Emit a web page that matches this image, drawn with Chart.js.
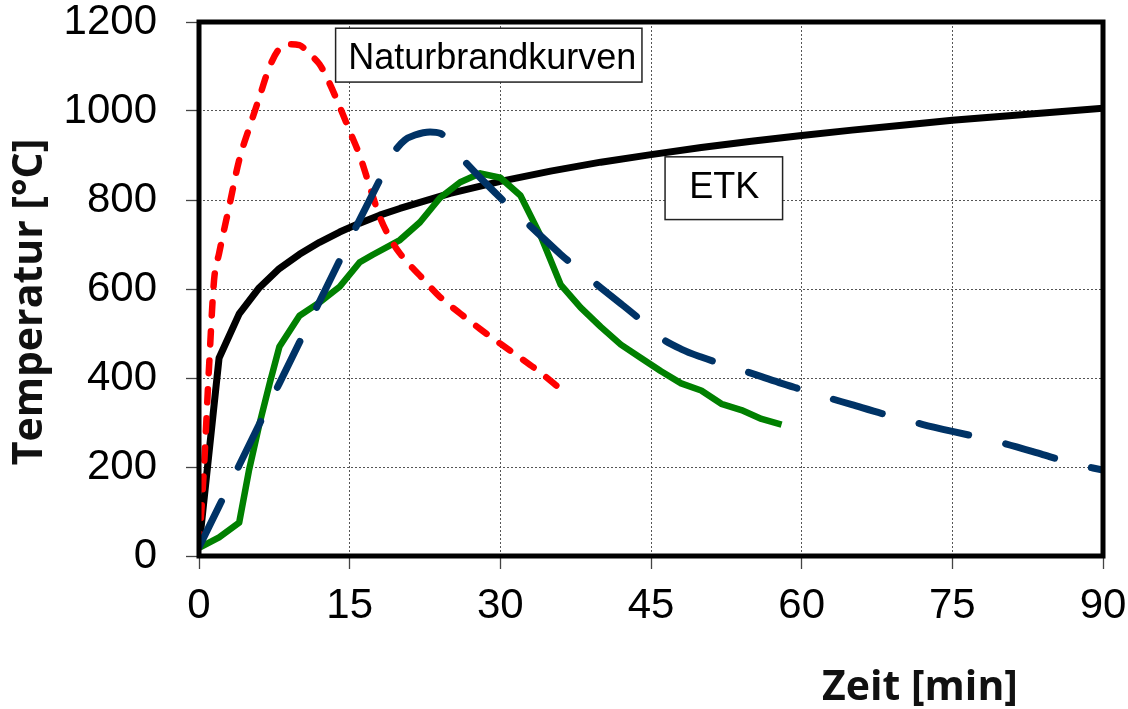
<!DOCTYPE html>
<html>
<head>
<meta charset="utf-8">
<title>ETK und Naturbrandkurven</title>
<script src="https://cdn.jsdelivr.net/npm/chart.js@4.4.1/dist/chart.umd.min.js"></script>
<style>
    html, body { margin: 0; padding: 0; background: #fff; }
    #wrap { width: 1128px; height: 709px; }
</style>
</head>
<body>
<div id="wrap"><canvas id="brandChart" width="1128" height="709"></canvas></div>
<script>
// Achsen
const xTicks = [0, 15, 30, 45, 60, 75, 90];
const yTicks = [0, 200, 400, 600, 800, 1000, 1200];

// Einheits-Temperaturzeitkurve (ETK)
const etkTime = [0, 2, 4, 6, 8, 10, 12, 14, 16, 18, 20, 25, 30, 35, 40, 45, 50, 55, 60, 65, 70, 75, 80, 85, 90];
const etkTemp = [20, 445, 544, 603, 646, 678, 705, 728, 748, 766, 781, 815, 842, 865, 885, 902, 918, 932, 945, 957, 968, 979, 988, 997, 1006];

// Naturbrandkurve 1 (rot, gestrichelt)
const redTime = [0, 0.5, 1, 1.5, 2, 3, 4, 5, 6, 7, 8, 9, 10, 11, 12, 13, 14, 15, 16, 17, 18, 19, 20, 22, 24, 26, 28, 30, 32, 34, 36];
const redTemp = [20, 200, 425, 620, 680, 785, 890, 962, 1030, 1098, 1140, 1150, 1148, 1128, 1105, 1062, 1010, 955, 900, 830, 762, 715, 680, 630, 582, 545, 510, 477, 445, 412, 375];

// Naturbrandkurve 2 (blau, lang gestrichelt)
const blueTime = [0, 2, 4, 6, 8, 10, 12, 14, 16, 18, 19.5, 20.5, 21.5, 23, 24, 26, 28, 30, 32, 34, 36, 38, 40, 42, 44, 46, 48, 50, 52, 54, 56, 58, 60, 62, 65, 68, 70, 72, 75, 78, 80, 84, 87, 90];
const blueTemp = [20, 112, 204, 296, 388, 480, 572, 664, 756, 845, 910, 935, 946, 953, 950, 898, 850, 805, 762, 720, 678, 640, 603, 567, 530, 490, 465, 447, 432, 418, 403, 388, 374, 360, 340, 320, 308, 296, 280, 265, 254, 228, 208, 193];

// Naturbrandkurve 3 (grün)
const greenTime = [0, 2, 4, 5, 6, 7, 8, 10, 12, 14, 16, 17.3, 20, 22, 24, 26, 28, 30, 32, 34, 36, 38, 40, 42, 44, 46, 48, 50, 52, 54, 56, 58];
const greenTemp = [18, 42, 75, 195, 295, 385, 470, 540, 570, 605, 660, 677, 710, 750, 805, 840, 860, 850, 810, 720, 610, 558, 515, 475, 445, 415, 388, 372, 342, 328, 308, 295];

function toPoints(xs, ys) {
    return xs.map((x, i) => ({ x: x, y: ys[i] }));
}

const tickFont = { family: '"Liberation Sans", Arial, sans-serif', size: 42, lineHeight: 1 };

// Beschriftungsboxen (in Achsenwerten)
const boxes = [
    { text: 'Naturbrandkurven', x1: 13.6, x2: 44.1, y1: 1186, y2: 1065, tx: 29.2, ty: 1117 },
    { text: 'ETK', x1: 46.4, x2: 58.1, y1: 897, y2: 756, tx: 52.3, ty: 827 }
];

function noPadding(s) {
    s.paddingTop = 0;
    s.paddingBottom = 0;
    s.paddingLeft = 0;
    s.paddingRight = 0;
}

const framePlugin = {
    id: 'frame',
    afterDatasetsDraw(chart) {
        const { ctx, chartArea: a } = chart;
        ctx.save();
        ctx.lineWidth = 5;
        ctx.strokeStyle = '#000';
        ctx.strokeRect(a.left, a.top, a.right - a.left, a.bottom - a.top);
        ctx.restore();
    }
};

const labelPlugin = {
    id: 'labels',
    afterDraw(chart) {
        const { ctx } = chart;
        const xs = chart.scales.x;
        const ys = chart.scales.y;
        ctx.save();
        boxes.forEach((b) => {
            const l = xs.getPixelForValue(b.x1);
            const r = xs.getPixelForValue(b.x2);
            const t = ys.getPixelForValue(b.y1);
            const bt = ys.getPixelForValue(b.y2);
            ctx.fillStyle = '#fff';
            ctx.fillRect(l, t, r - l, bt - t);
            ctx.lineWidth = 1.5;
            ctx.strokeStyle = '#222';
            ctx.strokeRect(l, t, r - l, bt - t);
            ctx.fillStyle = '#000';
            ctx.font = '36px "Liberation Sans", Arial, sans-serif';
            ctx.textAlign = 'center';
            ctx.textBaseline = 'middle';
            ctx.fillText(b.text, xs.getPixelForValue(b.tx), ys.getPixelForValue(b.ty));
        });

        // Achsentitel
        ctx.fillStyle = '#111';
        ctx.font = 'bold 41px "Open Sans", sans-serif';
        ctx.textAlign = 'center';
        ctx.textBaseline = 'middle';
        ctx.fillText('Zeit [min]', 920, 688);
        ctx.translate(30, 302);
        ctx.rotate(-Math.PI / 2);
        ctx.fillText('Temperatur [°C]', 0, 0);
        ctx.restore();
    }
};

const ctx = document.getElementById('brandChart').getContext('2d');
new Chart(ctx, {
    type: 'line',
    data: {
        datasets: [{
            label: 'Naturbrand 2',
            data: toPoints(blueTime, blueTemp),
            borderColor: '#003366',
            borderWidth: 7,
            borderDash: [51, 38],
            borderCapStyle: 'round',
            cubicInterpolationMode: 'monotone',
            pointRadius: 0
        },
        {
            label: 'Naturbrand 1',
            data: toPoints(redTime, redTemp),
            borderColor: '#ff0000',
            borderWidth: 6.5,
            borderDash: [13, 16],
            borderCapStyle: 'round',
            cubicInterpolationMode: 'monotone',
            pointRadius: 0
        },
        {
            label: 'Naturbrand 3',
            data: toPoints(greenTime, greenTemp),
            borderColor: '#008000',
            borderWidth: 6.5,
            borderJoinStyle: 'round',
            tension: 0,
            pointRadius: 0
        },
        {
            label: 'ETK',
            data: toPoints(etkTime, etkTemp),
            borderColor: '#000',
            borderWidth: 7,
            borderJoinStyle: 'round',
            tension: 0,
            pointRadius: 0
        }
        ]
    },
    options: {
        responsive: false,
        animation: false,
        layout: {
            padding: { left: 0, top: 22, right: 25, bottom: 0 }
        },
        plugins: {
            legend: { display: false },
            tooltip: { enabled: false }
        },
        scales: {
            x: {
                type: 'linear',
                min: 0,
                max: 90,
                afterBuildTicks: (s) => { s.ticks = xTicks.map((v) => ({ value: v })); },
                afterFit: (s) => { s.height = 153; noPadding(s); },
                ticks: { color: '#000', font: tickFont, padding: 16, maxRotation: 0, callback: (v) => String(v) },
                grid: { color: '#555', lineWidth: 1, tickLength: 13, tickColor: '#444', tickWidth: 1.3 },
                border: { display: false, dash: [2, 2] }
            },
            y: {
                type: 'linear',
                min: 0,
                max: 1200,
                afterBuildTicks: (s) => { s.ticks = yTicks.map((v) => ({ value: v })); },
                afterFit: (s) => { s.width = 199; noPadding(s); },
                ticks: { color: '#000', font: tickFont, padding: 29, callback: (v) => String(v) },
                grid: { color: '#555', lineWidth: 1, tickLength: 13, tickColor: '#444', tickWidth: 1.3 },
                border: { display: false, dash: [2, 2] }
            }
        }
    },
    plugins: [framePlugin, labelPlugin]
});
</script>
</body>
</html>
